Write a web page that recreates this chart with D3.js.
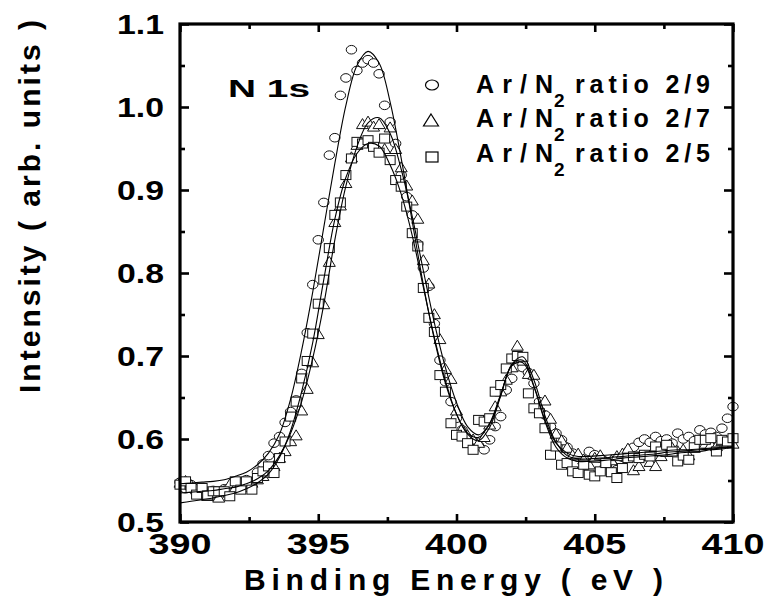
<!DOCTYPE html>
<html>
<head>
<meta charset="utf-8">
<script src="https://cdn.jsdelivr.net/npm/d3@7"></script>
<style>
  html, body { margin: 0; padding: 0; background: #fff; }
  svg { display: block; }
  text { font-family: Arial, "Liberation Sans", Helvetica, sans-serif; font-weight: bold; fill: #000; }
</style>
</head>
<body>
<svg id="chart" width="766" height="606"></svg>
<script>
// binding energy grid of the measured points (eV)
const energy = [
  390.0, 390.2, 390.4, 390.6, 390.8, 391.0, 391.2, 391.4, 391.6, 391.8,
  392.0, 392.2, 392.4, 392.6, 392.8, 393.0, 393.2, 393.4, 393.6, 393.8,
  394.0, 394.2, 394.4, 394.6, 394.8, 395.0, 395.2, 395.4, 395.6, 395.8,
  396.0, 396.2, 396.4, 396.6, 396.8, 397.0, 397.2, 397.4, 397.6, 397.8,
  398.0, 398.2, 398.4, 398.6, 398.8, 399.0, 399.2, 399.4, 399.6, 399.8,
  400.0, 400.2, 400.4, 400.6, 400.8, 401.0, 401.2, 401.4, 401.6, 401.8,
  402.0, 402.2, 402.4, 402.6, 402.8, 403.0, 403.2, 403.4, 403.6, 403.8,
  404.0, 404.2, 404.4, 404.6, 404.8, 405.0, 405.2, 405.4, 405.6, 405.8,
  406.0, 406.2, 406.4, 406.6, 406.8, 407.0, 407.2, 407.4, 407.6, 407.8,
  408.0, 408.2, 408.4, 408.6, 408.8, 409.0, 409.2, 409.4, 409.6, 409.8,
  410.0
]

// Ar/N2 ratio 2/9 (circles)
const ratio29 = [
  0.548, 0.540, 0.545, 0.536, 0.541, 0.534, 0.538, 0.532, 0.540, 0.536,
  0.545, 0.540, 0.551, 0.548, 0.560, 0.570, 0.580, 0.595, 0.603, 0.620,
  0.633, 0.647, 0.679, 0.728, 0.786, 0.840, 0.885, 0.942, 0.963, 1.014,
  1.035, 1.069, 1.044, 1.053, 1.057, 1.053, 1.040, 1.002, 0.982, 0.956,
  0.918, 0.892, 0.870, 0.835, 0.806, 0.784, 0.739, 0.695, 0.669, 0.645,
  0.625, 0.611, 0.600, 0.597, 0.592, 0.587, 0.599, 0.615, 0.627, 0.659,
  0.673, 0.687, 0.686, 0.680, 0.667, 0.645, 0.629, 0.615, 0.607, 0.599,
  0.590, 0.583, 0.578, 0.575, 0.585, 0.581, 0.577, 0.572, 0.570, 0.563,
  0.578, 0.585, 0.590, 0.596, 0.600, 0.596, 0.603, 0.598, 0.600, 0.595,
  0.607, 0.600, 0.603, 0.598, 0.611, 0.606, 0.608, 0.603, 0.613, 0.625,
  0.639
]

// Ar/N2 ratio 2/7 (triangles)
const ratio27 = [
  0.548, 0.550, 0.545, 0.540, 0.536, 0.532, 0.535, 0.530, 0.538, 0.546,
  0.542, 0.548, 0.543, 0.548, 0.552, 0.556, 0.560, 0.568, 0.578, 0.586,
  0.598, 0.605, 0.635, 0.661, 0.693, 0.727, 0.763, 0.814, 0.862, 0.882,
  0.909, 0.940, 0.955, 0.980, 0.983, 0.977, 0.980, 0.950, 0.976, 0.950,
  0.928, 0.906, 0.888, 0.866, 0.816, 0.788, 0.751, 0.721, 0.685, 0.673,
  0.635, 0.613, 0.605, 0.600, 0.596, 0.603, 0.618, 0.640, 0.658, 0.672,
  0.687, 0.713, 0.695, 0.679, 0.678, 0.639, 0.647, 0.625, 0.607, 0.599,
  0.590, 0.581, 0.583, 0.576, 0.570, 0.578, 0.581, 0.573, 0.575, 0.580,
  0.583, 0.589, 0.563, 0.568, 0.580, 0.573, 0.568, 0.580, 0.585, 0.590,
  0.586, 0.588, 0.581, 0.590, 0.596, 0.595, 0.594, 0.592, 0.598, 0.596,
  0.595
]

// Ar/N2 ratio 2/5 (squares)
const ratio25 = [
  0.545, 0.549, 0.541, 0.533, 0.541, 0.532, 0.537, 0.537, 0.537, 0.531,
  0.549, 0.539, 0.549, 0.539, 0.553, 0.561, 0.567, 0.559, 0.577, 0.597,
  0.627, 0.645, 0.673, 0.694, 0.727, 0.763, 0.792, 0.830, 0.870, 0.885,
  0.918, 0.938, 0.958, 0.956, 0.960, 0.952, 0.945, 0.962, 0.936, 0.912,
  0.904, 0.880, 0.848, 0.832, 0.782, 0.746, 0.729, 0.677, 0.657, 0.619,
  0.605, 0.603, 0.595, 0.587, 0.623, 0.621, 0.625, 0.657, 0.665, 0.685,
  0.697, 0.700, 0.699, 0.655, 0.637, 0.631, 0.613, 0.581, 0.591, 0.569,
  0.571, 0.561, 0.559, 0.569, 0.557, 0.555, 0.561, 0.571, 0.560, 0.553,
  0.565, 0.577, 0.579, 0.577, 0.581, 0.579, 0.591, 0.585, 0.593, 0.585,
  0.573, 0.580, 0.575, 0.590, 0.599, 0.599, 0.601, 0.585, 0.599, 0.597,
  0.601
]

// fitted curves, sampled every 0.4 eV
const fitEnergy = [
  390.0, 390.4, 390.8, 391.2, 391.6, 392.0, 392.4, 392.8, 393.2, 393.6,
  394.0, 394.4, 394.8, 395.2, 395.6, 396.0, 396.4, 396.8, 397.2, 397.6,
  398.0, 398.4, 398.8, 399.2, 399.6, 400.0, 400.4, 400.8, 401.2, 401.6,
  402.0, 402.4, 402.8, 403.2, 403.6, 404.0, 404.4, 404.8, 405.2, 405.6,
  406.0, 406.4, 406.8, 407.2, 407.6, 408.0, 408.4, 408.8, 409.2, 409.6,
  410.0
]
const fit29 = [
  0.546, 0.547, 0.548, 0.549, 0.551, 0.555, 0.560, 0.569, 0.583, 0.606,
  0.648, 0.707, 0.777, 0.855, 0.932, 1.002, 1.050, 1.067, 1.053, 1.006,
  0.938, 0.862, 0.786, 0.720, 0.667, 0.630, 0.607, 0.602, 0.619, 0.654,
  0.688, 0.692, 0.663, 0.623, 0.595, 0.583, 0.579, 0.579, 0.580, 0.581,
  0.582, 0.583, 0.584, 0.585, 0.586, 0.587, 0.587, 0.588, 0.589, 0.590,
  0.591
]
const fit27 = [
  0.535, 0.536, 0.537, 0.538, 0.540, 0.542, 0.546, 0.552, 0.562, 0.580,
  0.607, 0.645, 0.697, 0.762, 0.840, 0.905, 0.952, 0.981, 0.987, 0.968,
  0.925, 0.868, 0.803, 0.740, 0.686, 0.644, 0.615, 0.605, 0.618, 0.653,
  0.690, 0.699, 0.671, 0.628, 0.596, 0.580, 0.576, 0.576, 0.577, 0.578,
  0.579, 0.580, 0.581, 0.582, 0.584, 0.585, 0.586, 0.587, 0.588, 0.589,
  0.590
]
const fit25 = [
  0.523, 0.525, 0.527, 0.529, 0.532, 0.535, 0.540, 0.547, 0.558, 0.578,
  0.610, 0.657, 0.716, 0.792, 0.865, 0.915, 0.944, 0.956, 0.953, 0.930,
  0.895, 0.845, 0.783, 0.722, 0.670, 0.630, 0.606, 0.598, 0.614, 0.652,
  0.689, 0.695, 0.664, 0.621, 0.590, 0.577, 0.573, 0.573, 0.574, 0.575,
  0.577, 0.578, 0.579, 0.580, 0.581, 0.583, 0.584, 0.585, 0.587, 0.588,
  0.590
]

const xMajor = [390, 395, 400, 405, 410]
const xMinor = [392.5, 397.5, 402.5, 407.5]
const xTickLabels = ["390", "395", "400", "405", "410"]
const yMajor = [0.5, 0.6, 0.7, 0.8, 0.9, 1.0, 1.1]
const yMinor = [0.55, 0.65, 0.75, 0.85, 0.95, 1.05]
const yTickLabels = ["0.5", "0.6", "0.7", "0.8", "0.9", "1.0", "1.1"]
const legendLabels = ["2/9", "2/7", "2/5"]

const svg = d3.select("#chart")
const mLeft = 180, mRight = 733, mTop = 24, mBottom = 522

const x = d3.scaleLinear().domain([390, 410]).range([mLeft, mRight])
const y = d3.scaleLinear().domain([0.5, 1.1]).range([mBottom, mTop])

// ticks, all pointing inward
function ticks(axis, tx, ty) {
    const g = svg.append("g").attr("transform", "translate(" + tx + "," + ty + ")").call(axis)
    g.select(".domain").remove()
    g.selectAll(".tick line").attr("stroke", "#000").attr("stroke-width", 2.6)
    g.selectAll(".tick text").remove()
}
ticks(d3.axisBottom(x).tickValues(xMajor).tickSize(-8), 0, mBottom)
ticks(d3.axisBottom(x).tickValues(xMinor).tickSize(-5), 0, mBottom)
ticks(d3.axisTop(x).tickValues(xMajor).tickSize(-8), 0, mTop)
ticks(d3.axisTop(x).tickValues(xMinor).tickSize(-5), 0, mTop)
ticks(d3.axisLeft(y).tickValues(yMajor).tickSize(-9), mLeft, 0)
ticks(d3.axisLeft(y).tickValues(yMinor).tickSize(-5), mLeft, 0)
ticks(d3.axisRight(y).tickValues(yMajor).tickSize(-9), mRight, 0)
ticks(d3.axisRight(y).tickValues(yMinor).tickSize(-5), mRight, 0)

// tick labels
svg.append("g").selectAll("text")
    .data(xMajor)
    .enter().append("text")
    .attr("x", d => x(d) - 31.5)
    .attr("y", 554)
    .attr("font-size", 29)
    .attr("textLength", 63)
    .attr("lengthAdjust", "spacingAndGlyphs")
    .text((d, i) => xTickLabels[i])

svg.append("g").selectAll("text")
    .data(yMajor)
    .enter().append("text")
    .attr("x", 117)
    .attr("y", d => y(d) + 10)
    .attr("font-size", 27)
    .attr("textLength", 47)
    .attr("lengthAdjust", "spacingAndGlyphs")
    .text((d, i) => yTickLabels[i])

// axis titles
svg.append("text")
    .attr("x", 244)
    .attr("y", 590)
    .attr("font-size", 30)
    .attr("textLength", 419)
    .attr("lengthAdjust", "spacing")
    .text("Binding Energy ( eV )")

svg.append("text")
    .attr("transform", "translate(40,393) rotate(-90)")
    .attr("font-size", 30)
    .attr("textLength", 373)
    .attr("lengthAdjust", "spacing")
    .text("Intensity ( arb. units )")

// markers
const symTriangle = (cx, cy, w, h) =>
    "M" + cx + "," + (cy - h / 2) + "L" + (cx + w / 2) + "," + (cy + h / 2) + "L" + (cx - w / 2) + "," + (cy + h / 2) + "Z"

const marks = svg.append("g").attr("fill", "#fff").attr("stroke", "#111").attr("stroke-width", 1)

marks.append("g").selectAll("ellipse")
    .data(d3.zip(energy, ratio29))
    .enter().append("ellipse")
    .attr("cx", d => x(d[0]))
    .attr("cy", d => y(d[1]))
    .attr("rx", 5.2)
    .attr("ry", 4.3)

marks.append("g").selectAll("path")
    .data(d3.zip(energy, ratio27))
    .enter().append("path")
    .attr("d", d => symTriangle(x(d[0]), y(d[1]), 12, 10))

marks.append("g").selectAll("rect")
    .data(d3.zip(energy, ratio25))
    .enter().append("rect")
    .attr("x", d => x(d[0]) - 5)
    .attr("y", d => y(d[1]) - 4.5)
    .attr("width", 10)
    .attr("height", 9)

// fitted lines
const line = d3.line()
    .x(d => x(d[0]))
    .y(d => y(d[1]))
    .curve(d3.curveCatmullRom.alpha(0.5))

const fits = [fit29, fit27, fit25]
svg.append("g").selectAll("path")
    .data(fits)
    .enter().append("path")
    .attr("d", d => line(d3.zip(fitEnergy, d)))
    .attr("fill", "none")
    .attr("stroke", "#000")
    .attr("stroke-width", 1.1)

// frame
svg.append("rect")
    .attr("x", mLeft)
    .attr("y", mTop)
    .attr("width", mRight - mLeft)
    .attr("height", mBottom - mTop)
    .attr("fill", "none")
    .attr("stroke", "#000")
    .attr("stroke-width", 3.2)

// N 1s label
svg.append("text")
    .attr("x", 228)
    .attr("y", 97)
    .attr("font-size", 23)
    .attr("textLength", 82)
    .attr("lengthAdjust", "spacingAndGlyphs")
    .text("N 1s")

// legend
const legendRows = [93, 127, 162]
const legend = svg.append("g")
legend.append("ellipse")
    .attr("cx", 432).attr("cy", legendRows[0] - 8)
    .attr("rx", 6.5).attr("ry", 5)
    .attr("fill", "#fff").attr("stroke", "#000").attr("stroke-width", 1.2)
legend.append("path")
    .attr("d", symTriangle(431, legendRows[1] - 7, 15, 12))
    .attr("fill", "#fff").attr("stroke", "#000").attr("stroke-width", 1.2)
legend.append("rect")
    .attr("x", 426).attr("y", legendRows[2] - 10)
    .attr("width", 12).attr("height", 10)
    .attr("fill", "#fff").attr("stroke", "#000").attr("stroke-width", 1.2)

legendLabels.forEach((lab, i) => {
    const by = legendRows[i]
    legend.append("text")
        .attr("x", 476).attr("y", by)
        .attr("font-size", 25)
        .attr("textLength", 77)
        .attr("lengthAdjust", "spacing")
        .text("Ar/N")
    legend.append("text")
        .attr("x", 554).attr("y", by + 14)
        .attr("font-size", 19)
        .text("2")
    legend.append("text")
        .attr("x", 575).attr("y", by)
        .attr("font-size", 25)
        .attr("textLength", 135)
        .attr("lengthAdjust", "spacing")
        .text("ratio " + lab)
})
</script>
</body>
</html>
